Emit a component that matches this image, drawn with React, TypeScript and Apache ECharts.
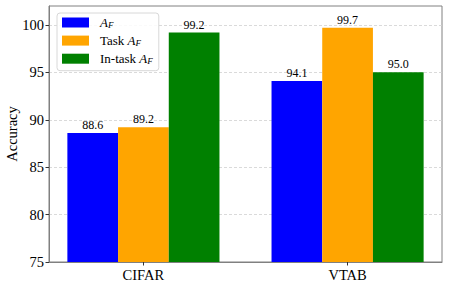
import React, { useEffect, useRef } from "react";
import * as echarts from "echarts";

const categories = ["CIFAR", "VTAB"];
const seriesNames = ["A_F", "Task A_F", "In-task A_F"];
const afValues = [88.6, 94.1];
const taskAfValues = [89.2, 99.7];
const inTaskAfValues = [99.2, 95.0];
const colors = ["#0000ff", "#ffa500", "#008000"];
const yTicks = [75, 80, 85, 90, 95, 100];

const FONT = "Liberation Serif";

export default function App() {
  const ref = useRef<HTMLDivElement>(null);
  useEffect(() => {
    if (!ref.current) return;
    const chart = echarts.init(ref.current, null, { renderer: "svg" });
    const allValues = [afValues, taskAfValues, inTaskAfValues];
    const legendFmt: Record<string, string> = {
      "A_F": "{i|A}{s|F}",
      "Task A_F": "{n|Task }{i|A}{s|F}",
      "In-task A_F": "{n|In-task }{i|A}{s|F}",
    };
    chart.setOption({
      animation: false,
      textStyle: { fontFamily: FONT },
      grid: {
        left: 49,
        right: 7,
        top: 6,
        bottom: 25,
        containLabel: false,
        outerBoundsMode: "none",
        show: true,
        borderColor: "#808080",
        borderWidth: 1,
        backgroundColor: "transparent",
      },
      legend: {
        orient: "vertical",
        left: 57,
        top: 13,
        padding: [3, 6, 4, 5],
        itemWidth: 27,
        itemHeight: 10,
        itemGap: 3.6,
        icon: "rect",
        borderColor: "#d8d8d8",
        borderWidth: 1,
        borderRadius: 3,
        backgroundColor: "rgba(255,255,255,0.85)",
        data: seriesNames,
        formatter: (name: string) => legendFmt[name],
        textStyle: {
          fontFamily: FONT,
          fontSize: 13,
          color: "#000",
          padding: [0, 0, 0, 6],
          rich: {
            n: { fontFamily: FONT, fontSize: 13, color: "#000", lineHeight: 16, verticalAlign: "middle" },
            i: { fontFamily: FONT, fontSize: 13, fontStyle: "italic", color: "#000", lineHeight: 16, verticalAlign: "middle" },
            s: { fontFamily: FONT, fontSize: 9, fontStyle: "italic", color: "#000", lineHeight: 16, verticalAlign: "bottom", padding: [0, 0, 1, 0] },
          },
        },
      },
      xAxis: {
        type: "value",
        min: -0.4625,
        max: 1.4625,
        axisLine: { show: true, onZero: false, lineStyle: { color: "#808080", width: 1 } },
        axisTick: { show: true, customValues: [0, 1], length: 3.5, lineStyle: { color: "#333" } },
        axisLabel: {
          customValues: [0, 1],
          formatter: (v: number) => categories[Math.round(v)],
          fontFamily: FONT,
          fontSize: 14.5,
          color: "#000",
          margin: 5,
        },
        splitLine: { show: false },
      },
      yAxis: {
        type: "value",
        min: 75,
        max: 102,
        interval: 5,
        name: "Accuracy",
        nameLocation: "middle",
        nameGap: 30,
        nameMoveOverlap: false,
        nameTextStyle: { fontFamily: FONT, fontSize: 14.5, color: "#000" },
        axisLine: { show: true, onZero: false, lineStyle: { color: "#808080", width: 1 } },
        axisTick: { show: true, customValues: yTicks, length: 3.5, lineStyle: { color: "#333" } },
        axisLabel: {
          customValues: yTicks,
          fontFamily: FONT,
          fontSize: 14.5,
          color: "#000",
          margin: 5,
        },
        splitLine: { show: true, lineStyle: { color: "#d0d0d0", type: [3, 2], width: 0.8 } },
      },
      series: seriesNames.map((name, si) => ({
        name,
        type: "bar",
        barWidth: 50.7,
        barGap: "0%",
        itemStyle: { color: colors[si] },
        label: {
          show: true,
          position: "top",
          distance: 2,
          fontFamily: FONT,
          fontSize: 12,
          color: "#000",
          formatter: (p: any) => Number(p.value[1]).toFixed(1),
        },
        data: categories.map((_, ci) => [ci, allValues[si][ci]]),
      })),
    });
    return () => chart.dispose();
  }, []);
  return (
    <div
      ref={ref}
      style={{ position: "absolute", left: 0, top: 0, width: 449, height: 287 }}
    />
  );
}
